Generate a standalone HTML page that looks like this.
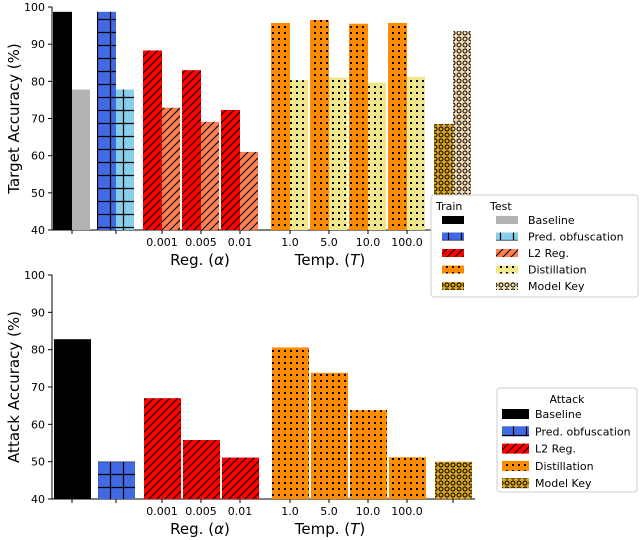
<!DOCTYPE html>
<html><head><meta charset="utf-8"><style>
body{margin:0;background:#fff;}
svg{display:block;font-family:"DejaVu Sans","Liberation Sans",sans-serif;}
</style></head><body>
<svg id="c" width="640" height="540">
<defs>
<pattern id="pGrid" width="13" height="13" patternUnits="userSpaceOnUse"><path d="M6.5 0V13M0 6.5H13" stroke="#000" stroke-width="1.2"/></pattern>
<pattern id="pDiag" width="8" height="8" patternUnits="userSpaceOnUse"><path d="M0 8L8 0M-2 2L2 -2M6 10L10 6" stroke="#000" stroke-width="1.1"/></pattern>
<pattern id="pDot" width="6" height="6" patternUnits="userSpaceOnUse"><rect x="2" y="2" width="2" height="2" fill="#000"/></pattern>
<pattern id="pCirc" width="6" height="6" patternUnits="userSpaceOnUse"><circle cx="3" cy="3" r="2" fill="none" stroke="#000" stroke-width="1"/></pattern>
</defs>
<g id="top"></g><g id="bot"></g>
</svg>
<script>
const groupTicks = [72, 116, 162, 201, 240, 290, 329, 368, 407, 453];
const categories = ["Baseline","Pred. obfuscation","L2 0.001","L2 0.005","L2 0.01","Dist 1.0","Dist 5.0","Dist 10.0","Dist 100.0","Model Key"];
const tickLabels = ["","","0.001","0.005","0.01","1.0","5.0","10.0","100.0",""];
const trainValues = [98.7, 98.7, 88.3, 83.0, 72.3, 95.7, 96.5, 95.5, 95.7, 68.5];
const testValues = [77.8, 77.8, 72.9, 69.1, 61.0, 80.3, 81.0, 79.7, 81.2, 93.5];
const attackValues = [82.8, 50.0, 67.0, 55.8, 51.1, 80.6, 73.8, 63.8, 51.2, 50.0];
const yTicks = [40,50,60,70,80,90,100];
const kinds = ["base","pred","l2","l2","l2","dist","dist","dist","dist","key"];
const trainColor = {base:"#000",pred:"#4169e1",l2:"#ff0000",dist:"#ff8c00",key:"#daa520"};
const testColor = {base:"#b3b3b3",pred:"#87ceeb",l2:"#ff7f50",dist:"#f0e68c",key:"#f5deb3"};
const hatch = {base:null,pred:"pGrid",l2:"pDiag",dist:"pDot",key:"pCirc"};
const NS="http://www.w3.org/2000/svg";
function mk(p,tag,at,txt){const e=document.createElementNS(NS,tag);for(const k in at)e.setAttribute(k,at[k]);if(txt!==undefined)e.textContent=txt;p.appendChild(e);return e;}
function yScale(v,y0,y1){return y0-(v-40)/60*(y0-y1);}
function axes(g,y0,y1,title,pre){
  const a=mk(g,"line",{x1:52,y1:y1,x2:52,y2:y0,stroke:"#000","stroke-width":1});
  
  const b=mk(g,"line",{x1:52,y1:y0,x2:475,y2:y0,stroke:"#000","stroke-width":1});
  
  yTicks.forEach(t=>{const y=yScale(t,y0,y1);mk(g,"line",{x1:48,y1:y,x2:52,y2:y,stroke:"#000"});
    const tl=mk(g,"text",{x:45,y:y+4,"text-anchor":"end","font-size":11},t);
    });
  groupTicks.forEach((x,i)=>{mk(g,"line",{x1:x,y1:y0,x2:x,y2:y0+4,stroke:"#000"});
    const tl=mk(g,"text",{x:x,y:y0+16,"text-anchor":"middle","font-size":11},tickLabels[i]);
    });
  const yt=mk(g,"text",{transform:`translate(19,${(y0+y1)/2}) rotate(-90)`,"text-anchor":"middle","font-size":15},title);
  
  const r=mk(g,"text",{x:200,y:y0+35,"text-anchor":"middle","font-size":15});r.innerHTML='Reg. (<tspan font-style="italic">α</tspan>)';
  
  const t=mk(g,"text",{x:330,y:y0+35,"text-anchor":"middle","font-size":15});t.innerHTML='Temp. (<tspan font-style="italic">T</tspan>)';
  
}
function bar(g,x,w,v,y0,y1,col,h,name){
  const y=yScale(v,y0,y1);
  const r=mk(g,"rect",{x:x,y:y,width:w,height:y0-y,fill:col});
  
  if(h)mk(g,"rect",{x:x,y:y,width:w,height:y0-y,fill:`url(#${h})`});
}
function legend(g,x,y,w,hgt,rows,title){
  const box=mk(g,"rect",{x:x,y:y,width:w,height:hgt,fill:"#fff",stroke:"#ccc",rx:3});
  
  return box;
}
const T=document.getElementById("top");
const tY0=230,tY1=7;
axes(T,tY0,tY1,"Target Accuracy (%)","target");
groupTicks.forEach((x,i)=>{const k=kinds[i];
  bar(T,x-19,19,trainValues[i],tY0,tY1,trainColor[k],hatch[k],'train-bar-'+i);
  bar(T,x,18,testValues[i],tY0,tY1,testColor[k],hatch[k],'test-bar-'+i);});
const B=document.getElementById("bot");
const bY0=499,bY1=275;
axes(B,bY0,bY1,"Attack Accuracy (%)","attack");
groupTicks.forEach((x,i)=>{const k=kinds[i];
  bar(B,x-18,37,attackValues[i],bY0,bY1,trainColor[k],hatch[k],'attack-bar-'+i);});
const names=["Baseline","Pred. obfuscation","L2 Reg.","Distillation","Model Key"];
const lk=["base","pred","l2","dist","key"];
legend(T,431,195,207,102);
const th=mk(T,"text",{x:436,y:210,"font-size":11},"Train");
const te=mk(T,"text",{x:490,y:210,"font-size":11},"Test");
lk.forEach((k,i)=>{const y=216+i*16.5;
  mk(T,"rect",{x:442,y:y,width:22,height:8,fill:trainColor[k]});if(hatch[k])mk(T,"rect",{x:442,y:y,width:22,height:8,fill:`url(#${hatch[k]})`});
  mk(T,"rect",{x:496,y:y,width:22,height:8,fill:testColor[k]});if(hatch[k])mk(T,"rect",{x:496,y:y,width:22,height:8,fill:`url(#${hatch[k]})`});
  const t=mk(T,"text",{x:528,y:y+8,"font-size":11},names[i]);});
legend(B,497,388,140,104,null,"Attack");
const at=mk(B,"text",{x:567,y:403,"font-size":11,"text-anchor":"middle"},"Attack");
lk.forEach((k,i)=>{const y=409+i*17.3;
  mk(B,"rect",{x:502,y:y,width:27,height:10,fill:trainColor[k]});if(hatch[k])mk(B,"rect",{x:502,y:y,width:27,height:10,fill:`url(#${hatch[k]})`});
  const t=mk(B,"text",{x:535,y:y+9,"font-size":11},names[i]);});
</script>
</body></html>
